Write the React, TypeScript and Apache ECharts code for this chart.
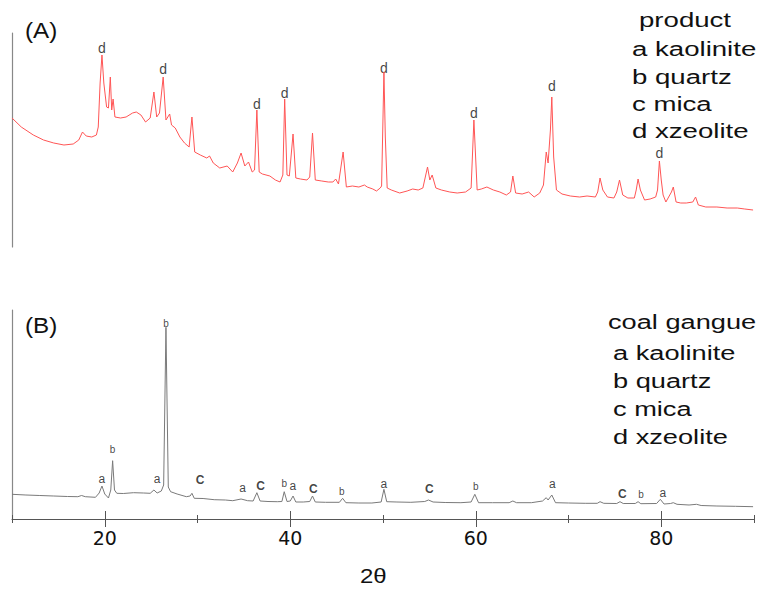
import React, { useEffect, useRef } from "react";
import * as echarts from "echarts";

// ---- (A) product pattern: 2θ and intensity (a.u.)
const twoThetaA = [10.0, 11.0, 12.3, 13.4, 14.5, 15.6, 16.6, 17.2, 17.6, 18.0, 18.6, 19.1, 19.3, 19.5, 19.7, 19.9, 20.2, 20.4, 20.6, 20.75, 20.9, 21.1, 21.7, 22.3, 23.0, 23.4, 23.9, 24.4, 24.9, 25.3, 25.6, 25.9, 26.3, 26.6, 27.0, 27.2, 27.6, 28.1, 28.6, 29.1, 29.4, 29.7, 30.3, 31.0, 31.3, 31.7, 32.4, 33.2, 33.8, 34.3, 34.7, 35.1, 35.5, 35.9, 36.15, 36.4, 36.65, 37.0, 37.8, 38.4, 38.9, 39.2, 39.4, 39.65, 39.9, 40.3, 40.6, 41.1, 41.8, 42.1, 42.4, 42.7, 43.4, 44.1, 44.6, 44.9, 45.2, 45.7, 46.05, 46.7, 47.4, 48.0, 48.3, 48.9, 49.3, 49.7, 49.85, 50.1, 50.25, 50.45, 50.9, 51.8, 52.6, 53.2, 53.8, 54.3, 54.8, 55.05, 55.3, 55.7, 56.3, 57.2, 58.0, 58.9, 59.5, 59.8, 60.15, 60.6, 61.2, 61.9, 62.6, 63.3, 63.75, 64.0, 64.3, 65.0, 65.7, 66.3, 66.9, 67.3, 67.6, 67.8, 68.05, 68.2, 68.4, 68.7, 69.3, 70.2, 71.2, 72.0, 72.9, 73.15, 73.4, 73.7, 74.2, 74.9, 75.2, 75.5, 75.85, 76.4, 77.1, 77.3, 77.5, 77.75, 78.2, 78.8, 79.4, 79.6, 79.8, 80.0, 80.2, 80.5, 81.1, 81.3, 81.6, 82.1, 82.7, 83.4, 83.7, 84.0, 84.8, 86.0, 87.1, 88.2, 89.0, 89.9];
const intensityA = [129, 120, 112, 107, 104, 102, 103, 107, 115, 111, 110, 112, 120, 164, 192, 164, 140, 139, 170, 137, 148, 130, 129, 130, 134, 135, 132, 125, 129, 155, 130, 134, 170, 127, 133, 122, 119, 110, 104, 100, 130, 95, 92, 89, 91, 84, 79, 81, 75, 84, 94, 81, 85, 75, 77, 137, 75, 73, 71, 67, 65, 72, 148, 72, 71, 113, 69, 68, 67, 70, 114, 67, 66, 65, 65, 68, 63, 95, 60, 61, 60, 62, 60, 58, 56, 59, 61, 175, 110, 59, 57, 54, 56, 58, 57, 59, 80, 67, 72, 59, 57, 55, 54, 55, 59, 127, 57, 58, 60, 57, 55, 52, 55, 71, 54, 53, 55, 50, 54, 62, 95, 84, 117, 150, 90, 57, 53, 51, 50, 51, 50, 55, 69, 57, 50, 49, 55, 67, 52, 49, 49, 57, 68, 57, 47, 48, 50, 57, 86, 67, 52, 45, 55, 60, 45, 44, 44, 45, 50, 42, 40, 40, 39, 39, 38, 37];

// ---- (B) coal gangue pattern
const twoThetaB = [10.0, 11.5, 13.0, 14.5, 16.0, 17.1, 17.5, 17.9, 19.0, 19.4, 19.7, 20.0, 20.4, 20.65, 20.85, 21.05, 21.3, 22.0, 23.1, 24.2, 24.9, 25.3, 25.65, 26.1, 26.35, 26.6, 26.85, 27.1, 27.8, 28.8, 29.2, 29.4, 29.65, 30.6, 31.8, 33.0, 33.8, 34.7, 35.4, 36.0, 36.4, 36.75, 37.6, 38.6, 39.1, 39.35, 39.65, 40.0, 40.3, 40.6, 41.4, 42.1, 42.4, 42.7, 43.8, 45.3, 45.65, 46.0, 47.4, 48.8, 49.8, 50.1, 50.4, 51.5, 53.0, 54.5, 54.9, 55.4, 56.7, 58.4, 59.5, 59.9, 60.3, 61.8, 63.6, 64.0, 64.4, 66.0, 67.2, 67.6, 67.8, 68.2, 68.6, 70.0, 71.8, 73.1, 73.4, 73.8, 75.2, 75.55, 75.9, 77.2, 77.5, 77.8, 79.5, 79.9, 80.3, 81.0, 81.3, 81.7, 83.0, 83.8, 84.3, 86.0, 88.0, 89.9];
const intensityB = [24.7, 24, 23.5, 23, 22.5, 22.3, 23.5, 22.3, 21.7, 26, 33, 25, 21, 29, 58.3, 29, 25.7, 25.5, 26.3, 26, 25.7, 29, 26, 28, 34, 191.7, 32, 27.3, 25, 22.3, 23, 25.7, 20.7, 20.5, 19.3, 19, 18.3, 20, 18.3, 18, 26.3, 18, 17.5, 17.3, 17.5, 27.3, 17.5, 18, 23, 17, 17, 17.5, 23, 17, 16.7, 16.7, 20.7, 16.3, 16, 16, 17, 29.7, 17.3, 17, 16.7, 17.5, 19, 17, 16.5, 16.3, 17, 24.7, 16.3, 16.3, 16.3, 18, 16.3, 16.3, 18, 21.3, 19, 24, 16.3, 16, 15.7, 15.7, 17.3, 15.7, 15.5, 17.3, 15.5, 15.5, 17.3, 15.3, 15.5, 19.7, 15, 15.5, 16.3, 14.7, 14, 14.7, 13.5, 13, 12.7, 12.3];

// ---- peak annotations (2θ, height in a.u., letter)
const peakA2theta = [19.7, 26.3, 36.4, 39.4, 50.1, 59.8, 68.2, 79.8];
const peakAHeight = [199, 178, 143, 154, 179, 134, 161, 94];
const peakAText = ["d", "d", "d", "d", "d", "d", "d", "d"];

const peakB2theta = [19.7, 20.85, 25.65, 26.6, 30.27, 34.87, 36.8, 39.36, 40.27, 42.49, 45.55, 50.1, 54.99, 59.99, 68.25, 75.8, 77.82, 80.16];
const peakBHeight = [40, 70, 40, 196, 39, 31, 33, 36, 33.3, 30, 28, 35, 30, 33, 35, 25, 24.7, 25.7];
const peakBText = ["a", "b", "a", "b", "C", "a", "C", "b", "a", "C", "b", "a", "C", "b", "a", "C", "b", "a"];

// ---- axis ticks and legends
const tickLabels = [20, 40, 60, 80];
const majorTicks = [20, 40, 60, 80];
const minorTicks = [10, 30, 50, 70, 90];
const legendA = ["product", "a kaolinite", "b quartz", "c mica", "d xzeolite"];
const legendB = ["coal gangue", "a kaolinite", "b quartz", "c mica", "d xzeolite"];
const panelTitles = ["(A)", "(B)"];
const axisName = "2θ";

const SANS = "'Liberation Sans', Arial, sans-serif";
const INK = "#111";

export default function App() {
  const ref = useRef<HTMLDivElement>(null);

  useEffect(() => {
    document.body.style.margin = "0";
    const chart = echarts.init(ref.current!, undefined, { renderer: "svg" });

    const dataA = twoThetaA.map((x, i) => [x, intensityA[i]]);
    const dataB = twoThetaB.map((x, i) => [x, intensityB[i]]);
    const baseLabel = {
      show: true,
      position: "inside",
      fontFamily: SANS,
      color: INK,
      textBorderWidth: 0,
      textShadowBlur: 0,
    };
    const labA = peakA2theta.map((x, i) => ({
      value: [x, peakAHeight[i]],
      name: peakAText[i],
      label: { ...baseLabel, fontSize: 14, formatter: peakAText[i] },
    }));
    const labB = peakB2theta.map((x, i) => {
      const t = peakBText[i];
      const style =
        t === "C"
          ? { fontSize: 12, fontWeight: "bold" as const }
          : t === "b"
          ? { fontSize: 10 }
          : { fontSize: 12 };
      return {
        value: [x, peakBHeight[i]],
        name: t,
        label: { ...baseLabel, ...style, formatter: t },
      };
    });

    const tickAxisBase = {
      type: "value" as const,
      gridIndex: 1,
      min: 10,
      max: 90,
      position: "bottom" as const,
      splitLine: { show: false },
    };

    const textEl = (text: string, x: number, y: number, size: number, sx: number, family = SANS) => ({
      type: "text",
      x,
      y,
      scaleX: sx,
      style: {
        text,
        font: `${size}px ${family}`,
        fill: INK,
        align: "left",
        verticalAlign: "middle",
      },
    });

    const legendYA = [20, 49, 77, 104, 131];
    const legendXA = [639, 632, 632, 632, 632];
    const legendYB = [322, 353, 381, 409, 437];
    const legendXB = [608, 613, 613, 613, 613];

    const graphics: any[] = [
      textEl(panelTitles[0], 25, 30, 22, 1.1),
      textEl(panelTitles[1], 25, 325, 22, 1.1),
      textEl(axisName, 360, 576, 20, 1.2),
      ...legendA.map((t, i) => textEl(t, legendXA[i], legendYA[i], 20, 1.38)),
      ...legendB.map((t, i) => textEl(t, legendXB[i], legendYB[i], 20, 1.36)),
    ];

    chart.setOption({
      animation: false,
      backgroundColor: "#fff",
      grid: [
        { left: 12, right: 9, top: 33, height: 214 },
        { left: 12, right: 9, top: 310, height: 209 },
      ],
      xAxis: [
        { type: "value", gridIndex: 0, min: 10, max: 90, show: false },
        {
          ...tickAxisBase,
          axisLine: { show: true, lineStyle: { color: "#555", width: 1 } },
          axisTick: { show: true, customValues: minorTicks, length: 4, lineStyle: { color: "#555" } },
          axisLabel: {
            show: true,
            customValues: tickLabels,
            fontFamily: "'DejaVu Sans', sans-serif",
            fontSize: 19,
            color: INK,
            margin: 9,
          },
        },
        {
          ...tickAxisBase,
          axisLine: { show: false },
          axisTick: { show: true, customValues: majorTicks, length: 8, lineStyle: { color: "#555" } },
          axisLabel: { show: false },
        },
        {
          ...tickAxisBase,
          axisLine: { show: false },
          axisTick: { show: true, inside: true, customValues: minorTicks, length: 4, lineStyle: { color: "#555" } },
          axisLabel: { show: false },
        },
        {
          ...tickAxisBase,
          axisLine: { show: false },
          axisTick: { show: true, inside: true, customValues: majorTicks, length: 8, lineStyle: { color: "#555" } },
          axisLabel: { show: false },
        },
      ],
      yAxis: [
        {
          type: "value",
          gridIndex: 0,
          min: 0,
          max: 214,
          axisLine: { show: true, lineStyle: { color: "#888", width: 1.2 } },
          axisTick: { show: false },
          axisLabel: { show: false },
          splitLine: { show: false },
        },
        {
          type: "value",
          gridIndex: 1,
          min: 0,
          max: 209,
          axisLine: { show: true, lineStyle: { color: "#888", width: 1.2 } },
          axisTick: { show: false },
          axisLabel: { show: false },
          splitLine: { show: false },
        },
      ],
      series: [
        {
          type: "line",
          xAxisIndex: 0,
          yAxisIndex: 0,
          data: dataA,
          showSymbol: false,
          lineStyle: { color: "#ff5555", width: 1 },
        },
        {
          type: "line",
          xAxisIndex: 1,
          yAxisIndex: 1,
          data: dataB,
          showSymbol: false,
          lineStyle: { color: "#7a7a7a", width: 1 },
        },
        {
          type: "scatter",
          xAxisIndex: 0,
          yAxisIndex: 0,
          data: labA,
          symbolSize: 0,
          itemStyle: { color: INK },
          label: baseLabel,
        },
        {
          type: "scatter",
          xAxisIndex: 1,
          yAxisIndex: 1,
          data: labB,
          symbolSize: 0,
          itemStyle: { color: INK },
          label: baseLabel,
        },
      ],
      graphic: graphics,
    });

    return () => chart.dispose();
  }, []);

  return (
    <div
      ref={ref}
      style={{ position: "absolute", left: 0, top: 0, width: 763, height: 589 }}
    />
  );
}
